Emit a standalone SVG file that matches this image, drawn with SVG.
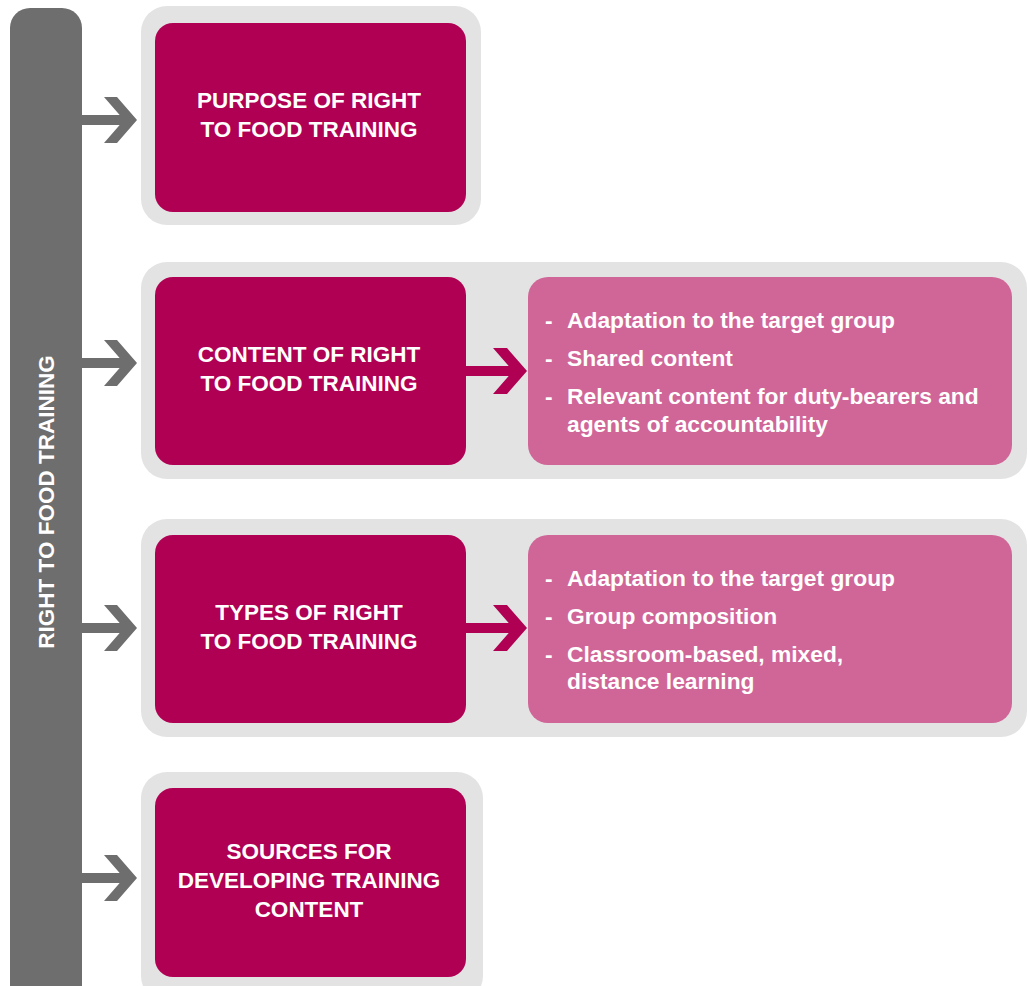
<svg xmlns="http://www.w3.org/2000/svg" xmlns:xlink="http://www.w3.org/1999/xlink" width="1028" height="986" viewBox="0 0 1028 986">
<style>
.outer{fill:#e3e3e3}
.dark{fill:#b00053}
.light{fill:#d06598}
.bar{fill:#6e6e6e}
.t{font-family:"Liberation Sans",Arial,sans-serif;font-weight:bold;font-size:22.5px;fill:#ffffff}
.l{font-size:22.8px}
.c{text-anchor:middle}
</style>
<defs>
<g id="garrow" fill="#6e6e6e">
<rect x="80" y="-5" width="50" height="10"/>
<polygon points="104,-23 117,-23 137,0 117,23 104,23 124,0"/>
</g>
<g id="parrow" fill="#b00053">
<rect x="464" y="-5" width="56" height="10"/>
<polygon points="493,-23 507,-23 527,0 507,23 493,23 513,0"/>
</g>
</defs>
<rect width="1028" height="986" fill="#ffffff"/>
<g id="main">
<rect class="bar" x="10" y="8" width="72" height="1000" rx="20"/>
<text class="t c" transform="translate(54,502) rotate(-90)">RIGHT TO FOOD TRAINING</text>
</g>
<g id="purpose">
<rect class="outer" x="141" y="6" width="340" height="219" rx="26"/>
<rect class="dark" x="155" y="23" width="311" height="189" rx="18"/>
<text class="t c" x="309" y="108">PURPOSE OF RIGHT</text>
<text class="t c" x="309" y="137">TO FOOD TRAINING</text>
</g>
<g id="content">
<rect class="outer" x="141" y="262" width="886" height="217" rx="26"/>
<rect class="dark" x="155" y="277" width="311" height="188" rx="18"/>
<text class="t c" x="309" y="362">CONTENT OF RIGHT</text>
<text class="t c" x="309" y="391">TO FOOD TRAINING</text>
</g>
<g id="content-details">
<rect class="light" x="528" y="277" width="484" height="188" rx="20"/>
<text class="t l" x="545" y="328">-</text><text class="t l" x="567" y="328">Adaptation to the target group</text>
<text class="t l" x="545" y="366">-</text><text class="t l" x="567" y="366">Shared content</text>
<text class="t l" x="545" y="404">-</text><text class="t l" x="567" y="404">Relevant content for duty-bearers and</text>
<text class="t l" x="567" y="432">agents of accountability</text>
</g>
<g id="types">
<rect class="outer" x="141" y="519" width="886" height="218" rx="26"/>
<rect class="dark" x="155" y="535" width="311" height="188" rx="18"/>
<text class="t c" x="309" y="620">TYPES OF RIGHT</text>
<text class="t c" x="309" y="649">TO FOOD TRAINING</text>
</g>
<g id="types-details">
<rect class="light" x="528" y="535" width="484" height="188" rx="20"/>
<text class="t l" x="545" y="586">-</text><text class="t l" x="567" y="586">Adaptation to the target group</text>
<text class="t l" x="545" y="624">-</text><text class="t l" x="567" y="624">Group composition</text>
<text class="t l" x="545" y="662">-</text><text class="t l" x="567" y="662">Classroom-based, mixed,</text>
<text class="t l" x="567" y="689">distance learning</text>
</g>
<g id="sources">
<rect class="outer" x="141" y="772" width="342" height="230" rx="26"/>
<rect class="dark" x="155" y="788" width="311" height="189" rx="18"/>
<text class="t c" x="309" y="859">SOURCES FOR</text>
<text class="t c" x="309" y="888">DEVELOPING TRAINING</text>
<text class="t c" x="309" y="917">CONTENT</text>
</g>
<g id="connectors">
<use xlink:href="#garrow" transform="translate(0,120)"/>
<use xlink:href="#garrow" transform="translate(0,363)"/>
<use xlink:href="#garrow" transform="translate(0,628)"/>
<use xlink:href="#garrow" transform="translate(0,878)"/>
<use xlink:href="#parrow" transform="translate(0,371)"/>
<use xlink:href="#parrow" transform="translate(0,628)"/>
</g>
</svg>
